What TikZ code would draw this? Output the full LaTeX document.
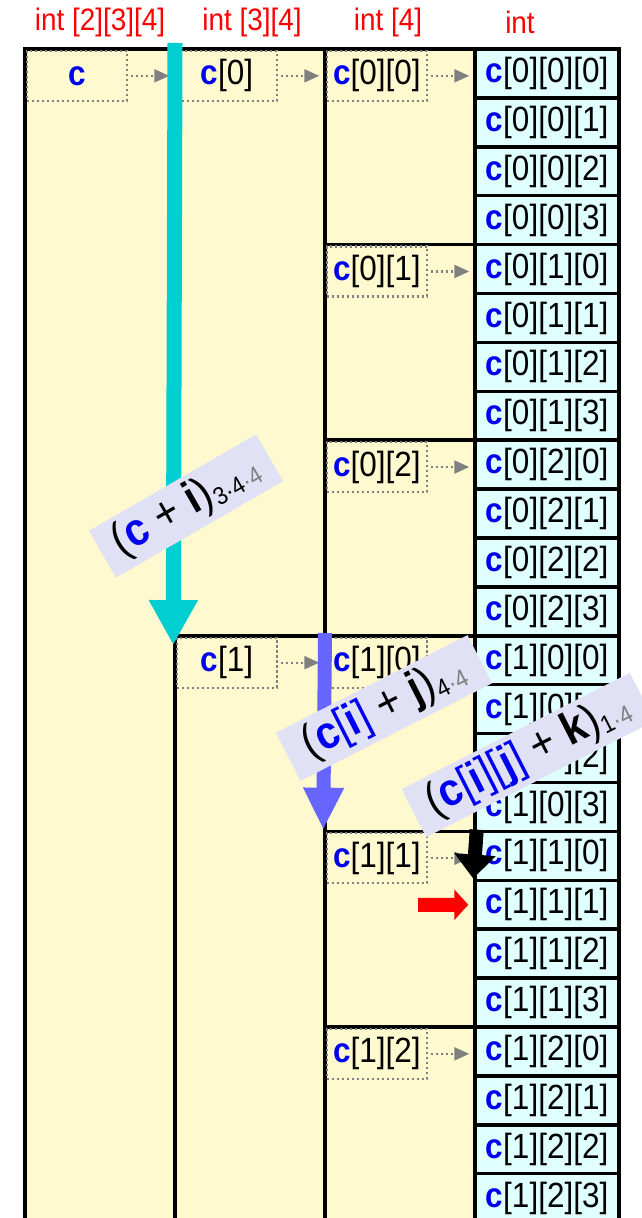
\documentclass[tikz,border=0pt]{standalone}
\usepackage{fontspec}
\setmainfont{Liberation Sans}[FakeStretch=0.9]
\usetikzlibrary{arrows.meta,calc}
\definecolor{colBlock}{RGB}{255,249,208}
\definecolor{colCell}{RGB}{224,255,255}
\definecolor{colTag}{RGB}{225,225,245}
\definecolor{colCyan}{RGB}{0,206,209}
\definecolor{colViolet}{RGB}{102,102,255}
\definecolor{colName}{RGB}{0,0,240}
\definecolor{colGrey}{RGB}{128,128,128}
\newcommand{\cvar}{{\bfseries\color{colName}c}}
\newcommand{\mulsub}[2]{\raisebox{-0.12em}{\fontsize{25}{25}\selectfont\mdseries #1{\color{colGrey}·#2}}}

\begin{document}
\begin{tikzpicture}[x=1pt, y=-1pt, font=\fontsize{35}{35}\selectfont,
    blk/.style={rectangle, draw, line width=3.5pt, fill=colBlock,
      minimum width=150pt, inner sep=0pt},
    cell/.style={rectangle, draw, line width=3.5pt, fill=colCell,
      minimum width=144pt, minimum height=48.9pt, inner sep=0pt},
    tag/.style={rectangle, draw=colGrey, line width=2.2pt,
      dash pattern=on 2.2pt off 2.8pt, minimum width=100pt,
      minimum height=50pt, anchor=north west, inner sep=0pt},
    ptr/.style={-{Triangle[length=15pt,width=13pt]}, colGrey,
      line width=2.2pt, dash pattern=on 2.2pt off 2.8pt,
      shorten <=3pt, shorten >=4pt},
    big/.style={line width=#1},
    hdr/.style={text=red, font=\fontsize{31}{31}\selectfont},
    expr/.style={fill=colTag, inner sep=0pt, minimum height=54pt,
      font=\fontsize{46}{46}\selectfont}]
    \useasboundingbox (0,0) rectangle (642,1218);
    % column blocks
    \node[blk, minimum height=1173.6pt] (arr) at (100,635.8) {};
    \foreach \i in {0,1}
      \node[blk, minimum height=586.8pt] (row-\i) at (250,{342.4+12*\i*48.9}) {};
    \foreach \i in {0,1}
      \foreach \j in {0,1,2}
        \node[blk, minimum height=195.6pt] (blk-\i-\j)
          at (400,{146.8+(12*\i+4*\j)*48.9}) {};
    % int cells
    \foreach \i in {0,1}
      \foreach \j in {0,1,2}
        \foreach \k in {0,...,3}
          \node[cell] (cell-\i-\j-\k) at (547,{73.45+(12*\i+4*\j+\k)*48.9})
            {\cvar[\i][\j][\k]};
    % name tags
    \node[tag] (tag-arr) at ($(arr.north west)+(2.5,2.5)$) {\cvar};
    \foreach \i in {0,1}
      \node[tag] (tag-row-\i) at ($(row-\i.north west)+(2.5,2.5)$) {\cvar[\i]};
    \foreach \i in {0,1}
      \foreach \j in {0,1,2}
        \node[tag] (tag-\i-\j) at ($(blk-\i-\j.north west)+(2.5,2.5)$)
          {\cvar[\i][\j]};
    \draw[ptr] (tag-arr.east) -- (tag-arr.east -| row-0.west);
    \foreach \i in {0,1}
      \draw[ptr] (tag-row-\i.east) -- (tag-row-\i.east -| blk-\i-0.west);
    \foreach \i in {0,1}
      \foreach \j in {0,1,2}
        \draw[ptr] (tag-\i-\j.east) -- (tag-\i-\j.east -| cell-\i-\j-0.west);
    % type headers
    \node[hdr] (hd-arr) at (100,22) {int [2][3][4]};
    \node[hdr] (hd-row) at (252,22) {int [3][4]};
    \node[hdr] (hd-blk) at (388,22) {int [4]};
    \node[hdr] (hd-cell) at (520,22) {int};
    % pointer steps
    \coordinate (cyanTop) at (175,43);
    \coordinate (violetTop) at (325,633);
    \draw[big=15pt, colCyan, -{Triangle[length=45pt,width=46pt]}]
      (cyanTop) -- ($(row-1.north west)+(0,11)$);
    \draw[big=14pt, colViolet, -{Triangle[length=42pt,width=38pt]}]
      (violetTop) -- (blk-1-1.north west);
    \draw[big=14pt, black, -{Triangle[length=24pt,width=40pt]}]
      (blk-1-1.north east) -- (cell-1-1-1.north west);
    \coordinate (redTail) at (418,904.75);
    \draw[big=14pt, red, -{Triangle[length=14pt,width=30pt]}]
      (redTail) -- ($(cell-1-1-1.west)+(-5,0)$);
    % address expressions
    \node[expr, rotate=30, minimum width=193pt] (ex-i) at (186,506)
      {(\cvar\ + {\bfseries i})\mulsub{3·4}{4}};
    \node[expr, rotate=27, minimum width=215pt] (ex-j) at (384,708)
      {({\color{colName}\textbf{c}[\textbf{i}]} + {\bfseries j})\mulsub{4}{4}};
    \node[expr, rotate=27, minimum width=256pt] (ex-k) at (528,755)
      {({\color{colName}\textbf{c}[\textbf{i}][\textbf{j}]} + {\bfseries k})\mulsub{1}{4}};
  \end{tikzpicture}
\end{document}
